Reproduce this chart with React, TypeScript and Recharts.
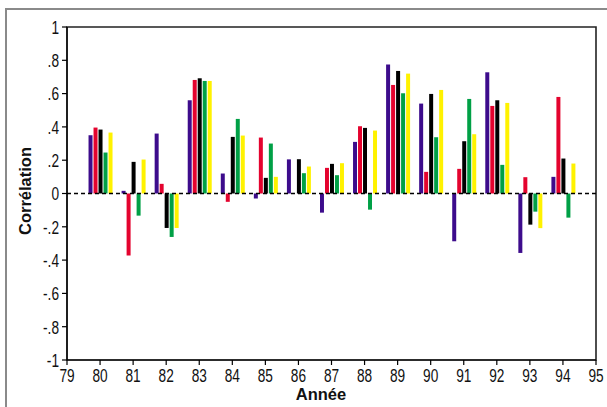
import { BarChart, Bar, XAxis, YAxis, ReferenceLine, ReferenceArea } from "recharts"

const years = [80, 81, 82, 83, 84, 85, 86, 87, 88, 89, 90, 91, 92, 93, 94]
const purple = [0.35, 0.016, 0.36, 0.56, 0.12, -0.03, 0.205, -0.115, 0.31, 0.775, 0.54, -0.287, 0.728, -0.357, 0.1]
const red = [0.396, -0.373, 0.058, 0.682, -0.05, 0.336, null, 0.154, 0.404, 0.652, 0.13, 0.148, 0.526, 0.098, 0.58]
const black = [0.384, 0.19, -0.207, 0.692, 0.34, 0.094, 0.206, 0.178, 0.394, 0.736, 0.598, 0.314, 0.56, -0.187, 0.21]
const green = [0.246, -0.133, -0.261, 0.676, 0.448, 0.3, 0.122, 0.11, -0.097, 0.602, 0.338, 0.568, 0.172, -0.109, -0.145]
const yellow = [0.366, 0.204, -0.207, 0.676, 0.348, 0.1, 0.162, 0.182, 0.378, 0.72, 0.622, 0.356, 0.544, -0.208, 0.18]

const xTicks = [79, 80, 81, 82, 83, 84, 85, 86, 87, 88, 89, 90, 91, 92, 93, 94, 95]
const yTicks = [-1, -0.8, -0.6, -0.4, -0.2, 0, 0.2, 0.4, 0.6, 0.8, 1]

const data = years.map((year, i) => ({
  year,
  purple: purple[i],
  red: red[i],
  black: black[i],
  green: green[i],
  yellow: yellow[i],
}))

// no narrow font installed, so squeeze Liberation Sans horizontally for the tick numbers
const font = "'Liberation Sans', Arial, sans-serif"
const squeeze = "scale(0.72,1)"

const fmtY = (v: number) => {
  if (v === 0 || v === 1 || v === -1) return String(v)
  const s = Math.abs(v).toFixed(1).replace(/^0/, "")
  return v < 0 ? "-" + s : s
}

function XTick({ x, y, payload }: any) {
  return (
    <g transform={`translate(${x},${y + 9})`}>
      <text transform={squeeze} textAnchor="middle" dominantBaseline="central" style={{ fontSize: 19, fontFamily: font, fill: "#111" }}>
        {payload.value}
      </text>
    </g>
  )
}

function YTick({ x, y, payload }: any) {
  return (
    <g transform={`translate(${x},${y + 0.5})`}>
      <text transform={squeeze} textAnchor="end" dominantBaseline="central" style={{ fontSize: 19, fontFamily: font, fill: "#111" }}>
        {fmtY(payload.value)}
      </text>
    </g>
  )
}

const titleStyle = { fontSize: 16.5, fontWeight: 700, fontFamily: font, fill: "#111" }

export default function App() {
  return (
    <div style={{ position: "absolute", left: 0, top: 0, width: 607, height: 407, background: "#fff", overflow: "hidden" }}>
      <div
        style={{
          position: "absolute",
          left: 5,
          top: 8,
          width: 620,
          height: 420,
          borderTop: "2px solid #8a8a8a",
          borderLeft: "2px solid #8a8a8a",
        }}
      />
      <BarChart
        width={607}
        height={407}
        data={data}
        margin={{ top: 27, right: 11, left: 0, bottom: 0 }}
        barSize={4}
        barGap={1}
        style={{ position: "absolute", left: 0, top: 0 }}
      >
        <XAxis
          dataKey="year"
          type="number"
          domain={[79, 95]}
          ticks={xTicks}
          interval={0}
          height={47}
          tick={<XTick />}
          tickSize={5}
          tickMargin={2}
          axisLine={{ stroke: "#000", strokeWidth: 1.2 }}
          tickLine={{ stroke: "#000", strokeWidth: 1.2 }}
          label={{
            content: () => (
              <text x={321} y={394} textAnchor="middle" dominantBaseline="central" style={titleStyle}>
                Année
              </text>
            ),
          }}
        />
        <YAxis
          type="number"
          domain={[-1, 1]}
          ticks={yTicks}
          interval={0}
          width={67}
          tick={<YTick />}
          tickSize={5}
          tickMargin={3}
          axisLine={{ stroke: "#000", strokeWidth: 1.2 }}
          tickLine={{ stroke: "#000", strokeWidth: 1.2 }}
          label={{
            content: () => (
              <text
                x={25}
                y={191}
                transform="rotate(-90 25 191)"
                textAnchor="middle"
                dominantBaseline="central"
                style={titleStyle}
              >
                Corrélation
              </text>
            ),
          }}
        />
        <ReferenceArea x1={79} x2={95} y1={-1} y2={1} fill="none" stroke="#222" strokeWidth={1.6} />
        <Bar dataKey="purple" fill="#3d0c8c" isAnimationActive={false} />
        <Bar dataKey="red" fill="#e4032e" isAnimationActive={false} />
        <Bar dataKey="black" fill="#000000" isAnimationActive={false} />
        <Bar dataKey="green" fill="#00a046" isAnimationActive={false} />
        <Bar dataKey="yellow" fill="#fff200" isAnimationActive={false} />
        <ReferenceLine y={0} stroke="#000" strokeWidth={1.4} strokeDasharray="4 3" />
      </BarChart>
    </div>
  )
}
